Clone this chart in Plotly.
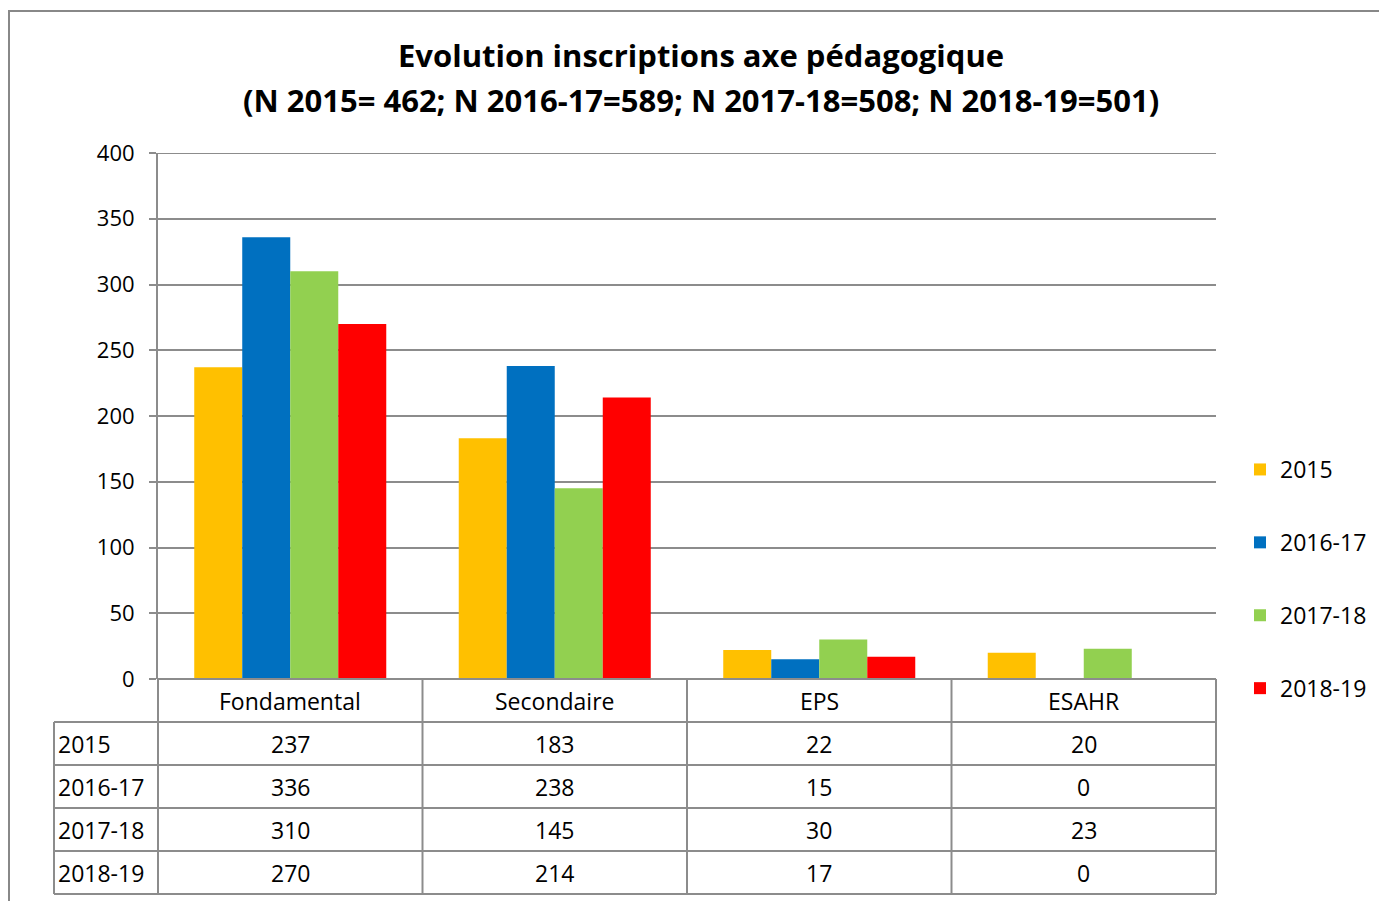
import plotly.graph_objects as go

# data
categories = ["Fondamental", "Secondaire", "EPS", "ESAHR"]
series_names = ["2015", "2016-17", "2017-18", "2018-19"]
values_2015 = [237, 183, 22, 20]
values_2016_17 = [336, 238, 15, 0]
values_2017_18 = [310, 145, 30, 23]
values_2018_19 = [270, 214, 17, 0]
series_values = [values_2015, values_2016_17, values_2017_18, values_2018_19]
colors = ["#FFC000", "#0070C0", "#92D050", "#FF0000"]

title_1 = "<b>Evolution inscriptions axe pédagogique</b>"
title_2 = "<b>(N 2015= 462; N 2016-17=589; N 2017-18=508; N 2018-19=501)</b>"
y_max, y_step = 400, 50

# layout in pixels (page has an 8px body margin)
FIG_W, FIG_H = 1379, 893
L, R, T, B = 150, 171, 145, 222
PW, PH = FIG_W - L - R, FIG_H - T - B
AXIS_Y = FIG_H - B
ROW_H = 43
GRID = "#8C8C8C"
FONT = "'Open Sans', sans-serif"
FS = 23


def px_x(x):
    return (x - L) / PW


def px_y(y):
    return (AXIS_Y - y) / PH


fig = go.Figure()
for name, vals, col in zip(series_names, series_values, colors):
    fig.add_trace(go.Bar(x=categories, y=vals, name=name, marker_color=col,
                         marker_line_width=0, legendgroup=name))

shapes = []
annotations = []
line = dict(color=GRID, width=2)

# top gridline (plotly skips it at the range edge)
shapes.append(dict(type="line", xref="paper", yref="y", x0=0, x1=1, y0=y_max, y1=y_max,
                   line=line, layer="below"))

# table
n = len(categories)
row_label_x = px_x(46)
y_rows = [px_y(AXIS_Y + ROW_H * (i + 1)) for i in range(len(series_names) + 1)]
bottom = y_rows[-1]
shapes.append(dict(type="line", xref="paper", yref="paper", x0=0, x1=1, y0=0, y1=0, line=line))
for y in y_rows:
    shapes.append(dict(type="line", xref="paper", yref="paper", x0=row_label_x, x1=1,
                       y0=y, y1=y, line=line))
for i in range(n + 1):
    shapes.append(dict(type="line", xref="paper", yref="paper", x0=i / n, x1=i / n,
                       y0=0, y1=bottom, line=line))
shapes.append(dict(type="line", xref="paper", yref="paper", x0=row_label_x, x1=row_label_x,
                   y0=y_rows[0], y1=bottom, line=line))

cell_font = dict(size=FS, color="#000")
for c in categories:
    annotations.append(dict(x=c, xref="x", y=y_rows[0] / 2, yref="paper", text=c,
                            xanchor="center", yanchor="middle", showarrow=False, font=cell_font))
for r, (name, vals) in enumerate(zip(series_names, series_values)):
    yc = (y_rows[r] + y_rows[r + 1]) / 2
    annotations.append(dict(x=px_x(48), xref="paper", xanchor="left", y=yc, yref="paper",
                            yanchor="middle", text=name, showarrow=False, font=cell_font))
    for c, v in zip(categories, vals):
        annotations.append(dict(x=c, xref="x", y=yc, yref="paper", text=str(v),
                                xanchor="center", yanchor="middle", showarrow=False,
                                font=cell_font))

# title, two lines
for txt, ty in [(title_1, 47), (title_2, 92)]:
    annotations.append(dict(x=px_x(693), xref="paper", y=px_y(ty), yref="paper", text=txt,
                            xanchor="center", yanchor="middle", showarrow=False,
                            font=dict(size=31, color="#000")))

# chart border
shapes.append(dict(type="line", xref="paper", yref="paper", x0=px_x(1), x1=px_x(1),
                   y0=px_y(3), y1=px_y(FIG_H + 5), line=dict(color="#888", width=2)))
shapes.append(dict(type="line", xref="paper", yref="paper", x0=px_x(0), x1=px_x(FIG_W + 5),
                   y0=px_y(3), y1=px_y(3), line=dict(color="#888", width=2)))

fig.update_layout(
    width=FIG_W, height=FIG_H,
    margin=dict(l=L, r=R, t=T, b=B),
    paper_bgcolor="white", plot_bgcolor="white",
    font=dict(family=FONT, size=FS, color="#000"),
    barmode="group", bargap=0.274, bargroupgap=0,
    xaxis=dict(showticklabels=False, ticks="", showgrid=False, showline=False, zeroline=False),
    yaxis=dict(range=[0, y_max], dtick=y_step, showgrid=True, gridcolor=GRID, gridwidth=2,
               showline=True, linecolor=GRID, linewidth=2, ticks="outside", ticklen=7,
               tickcolor=GRID, tickwidth=2, zeroline=False, tickfont=dict(size=FS - 1),
               ticklabelstandoff=10),
    legend=dict(x=px_x(1232), xanchor="left", y=px_y(440), yanchor="top",
                tracegroupgap=40, font=dict(size=FS), itemwidth=30),
    shapes=shapes, annotations=annotations,
)

fig.write_html("out.html")
